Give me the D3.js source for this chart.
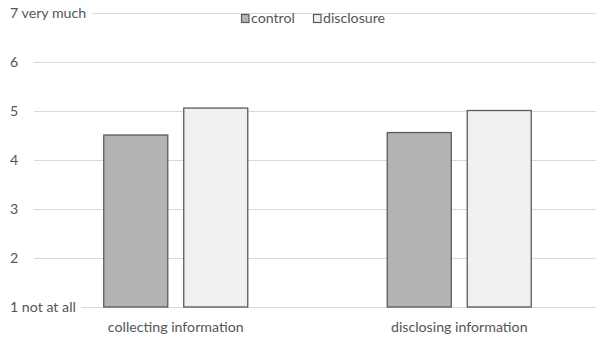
<!DOCTYPE html>
<html>
<head>
<meta charset="utf-8">
<script src="https://cdn.jsdelivr.net/npm/d3@7"></script>
<style>
  html, body { margin: 0; padding: 0; background: #fff; }
  svg { display: block; font-family: Lato, "Open Sans", sans-serif; }
</style>
</head>
<body>
<svg id="chart" width="596" height="339"></svg>
<script>
// Mean ratings per activity, by condition
const categories = ["collecting information", "disclosing information"];
const seriesNames = ["control", "disclosure"];
const controlValues = [4.51, 4.56];
const disclosureValues = [5.06, 5.01];
const tickValues = [1, 2, 3, 4, 5, 6, 7];
const tickLabels = ["1 not at all", "2", "3", "4", "5", "6", "7 very much"];

const fills = { control: "#b4b4b4", disclosure: "#f0f0f0" };
const textColor = "#555555";
const fontSize = 14.2;

const svg = d3.select("#chart");
const width = 596, height = 339;
const plot = { left: 34, right: 601, top: 13, bottom: 307 };

const y = d3.scaleLinear().domain([1, 7]).range([plot.bottom, plot.top]);
const x0 = d3.scaleBand().domain(categories).range([plot.left, plot.right]).paddingInner(0).paddingOuter(0);
const x1 = d3.scaleBand().domain(seriesNames).range([0, 144]).paddingInner(0.2);
const groupOffset = (x0.bandwidth() - 144) / 2;

const rows = categories.map((c, i) => ({
  category: c,
  values: [
    { key: "control", value: controlValues[i] },
    { key: "disclosure", value: disclosureValues[i] }
  ]
}));

// Horizontal gridlines
svg.append("g")
  .selectAll("line")
  .data(tickValues)
  .join("line")
  .attr("x1", plot.left)
  .attr("x2", width)
  .attr("y1", d => Math.round(y(d)) + 0.5)
  .attr("y2", d => Math.round(y(d)) + 0.5)
  .attr("stroke", "#d9d9d9")
  .attr("stroke-width", 1.2);

// Y tick labels (long labels sit on a white backing over the gridline)
const yLabels = svg.append("g")
  .selectAll("g")
  .data(tickValues)
  .join("g")
  .attr("transform", d => `translate(10,${y(d)})`);

yLabels.append("text")
  .attr("dy", "0.35em")
  .attr("font-size", fontSize)
  .attr("fill", textColor)
  .text((d, i) => tickLabels[i])
  .each(function () {
    const bb = this.getBBox();
    if (bb.width > 20) {
      d3.select(this.parentNode).insert("rect", "text")
        .attr("x", bb.x - 2).attr("y", -4)
        .attr("width", bb.width + 8).attr("height", 8)
        .attr("fill", "#fff");
    }
  });

// Bars
const groups = svg.append("g")
  .selectAll("g")
  .data(rows)
  .join("g")
  .attr("transform", d => `translate(${x0(d.category) + groupOffset},0)`);

groups.selectAll("rect")
  .data(d => d.values)
  .join("rect")
  .attr("x", d => x1(d.key))
  .attr("y", d => y(d.value))
  .attr("width", x1.bandwidth())
  .attr("height", d => y(1) - y(d.value))
  .attr("fill", d => fills[d.key])
  .attr("stroke", "#5a5a5a")
  .attr("stroke-width", 1.3);

// Category labels
svg.append("g")
  .selectAll("text")
  .data(categories)
  .join("text")
  .attr("x", d => x0(d) + groupOffset + 72)
  .attr("y", 331.5)
  .attr("text-anchor", "middle")
  .attr("font-size", fontSize)
  .attr("fill", textColor)
  .text(d => d);

// Legend
const legendX = [241, 313];
const legend = svg.append("g")
  .selectAll("g")
  .data(seriesNames)
  .join("g")
  .attr("transform", (d, i) => `translate(${legendX[i]},14)`);

legend.append("rect")
  .attr("x", 0.5).attr("y", 0.5)
  .attr("width", 7.5).attr("height", 8)
  .attr("fill", d => fills[d])
  .attr("stroke", "#5a5a5a")
  .attr("stroke-width", 1.2);

legend.append("text")
  .attr("x", 10)
  .attr("y", 9.3)
  .attr("font-size", fontSize)
  .attr("fill", textColor)
  .text(d => d);
</script>
</body>
</html>
